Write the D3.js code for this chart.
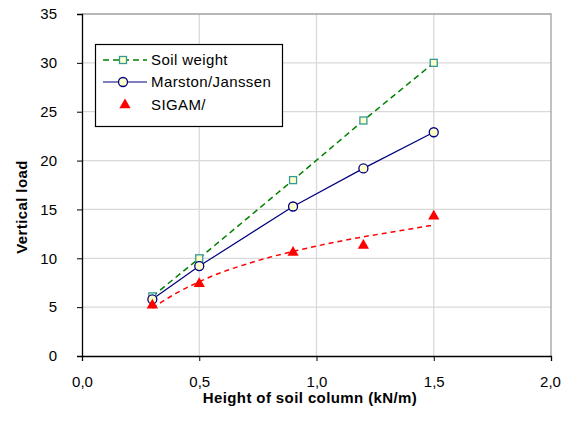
<!DOCTYPE html>
<html>
<head>
<meta charset="utf-8">
<script src="https://cdn.jsdelivr.net/npm/d3@7"></script>
<style>
  body { margin: 0; background: #fff; }
  text { font-family: "Liberation Sans", Arial, sans-serif; letter-spacing: 0.4px; }
  .tick text { letter-spacing: 0; }
</style>
</head>
<body>
<svg class="chart" width="561" height="421"></svg>
<script>
// values
const heights = [0.3, 0.5, 0.9, 1.2, 1.5]
const soilWeight = [6.1, 10.0, 18.0, 24.1, 30.0]
const marston = [5.8, 9.2, 15.3, 19.2, 22.9]
const sigam = [5.2, 7.4, 10.6, 11.3, 14.3]
// red dashed trend line
const trendX = [0.3, 0.4, 0.5, 0.6, 0.7, 0.8, 0.9, 1.0, 1.1, 1.2, 1.3, 1.4, 1.5]
const trendY = [4.9, 6.4, 7.6, 8.6, 9.4, 10.1, 10.7, 11.25, 11.75, 12.2, 12.6, 13.0, 13.4]
const xTicks = [0, 0.5, 1.0, 1.5, 2.0]
const yTicks = [0, 5, 10, 15, 20, 25, 30, 35]
const legendNames = ["Soil weight", "Marston/Janssen", "SIGAM/"]

const margin = {top: 14, right: 10, bottom: 65, left: 82}
const width = 551 - margin.left
const height = 356 - margin.top
const fontSize = 15

let svg = d3.select('.chart')
let chart = svg.append("g")
        .attr("transform", `translate(${margin.left},${margin.top})`)

let x = d3.scaleLinear().domain([0, 2]).range([0, width])
let y = d3.scaleLinear().domain([0, 35]).range([height, 0])

// grid
chart.append("g").selectAll("line")
    .data(yTicks.filter(d => d > 0 && d < 35))
    .enter().append("line")
        .attr("x1", 0).attr("x2", width)
        .attr("y1", d => y(d)).attr("y2", d => y(d))
        .attr("stroke", "#d9d9d9").attr("stroke-width", 1.3)
chart.append("g").selectAll("line")
    .data(xTicks.filter(d => d > 0 && d < 2))
    .enter().append("line")
        .attr("y1", 0).attr("y2", height)
        .attr("x1", d => x(d)).attr("x2", d => x(d))
        .attr("stroke", "#d9d9d9").attr("stroke-width", 1.3)

// frame top / right
chart.append("path")
    .attr("d", `M0,0H${width}V${height}`)
    .attr("fill", "none").attr("stroke", "#a0a0a0").attr("stroke-width", 1.3)

// axes
let fmt = d3.format(".1f")
let xAxis = chart.append("g")
    .attr("transform", `translate(0,${height})`)
    .call(d3.axisBottom(x).tickValues(xTicks).tickSize(5).tickPadding(15)
        .tickFormat(d => fmt(d).replace(".", ",")))
let yAxis = chart.append("g")
    .call(d3.axisLeft(y).tickValues(yTicks).tickSize(5).tickPadding(20))
for (let ax of [xAxis, yAxis]) {
    ax.select(".domain").attr("stroke", "#000").attr("stroke-width", 1.3)
    ax.selectAll(".tick line").attr("stroke", "#000")
    ax.selectAll("text").attr("font-size", fontSize).attr("fill", "#000")
        .style("font-family", '"Liberation Sans", Arial, sans-serif')
}
// keep the last label inside the window
xAxis.selectAll(".tick text").filter(d => d === 2).attr("dx", -1)

// titles
svg.append("text")
    .attr("x", 310).attr("y", 403)
    .attr("text-anchor", "middle")
    .attr("font-size", fontSize).attr("font-weight", "bold")
    .text("Height of soil column (kN/m)")
svg.append("text")
    .attr("transform", "translate(27,207) rotate(-90)")
    .attr("text-anchor", "middle")
    .attr("font-size", fontSize).attr("font-weight", "bold")
    .text("Vertical load")

// series
let soilData = heights.map((h, i) => ({x: h, y: soilWeight[i]}))
let marstonData = heights.map((h, i) => ({x: h, y: marston[i]}))
let sigamData = heights.map((h, i) => ({x: h, y: sigam[i]}))
let trendData = trendX.map((h, i) => ({x: h, y: trendY[i]}))

let line = d3.line().x(d => x(d.x)).y(d => y(d.y))

chart.append("path")
    .datum(trendData)
    .attr("d", line.curve(d3.curveMonotoneX))
    .attr("fill", "none").attr("stroke", "#ff0000")
    .attr("stroke-width", 1.5).attr("stroke-dasharray", "5,4")
line.curve(d3.curveLinear)

chart.append("path")
    .datum(soilData)
    .attr("d", line)
    .attr("fill", "none").attr("stroke", "#008000")
    .attr("stroke-width", 1.5).attr("stroke-dasharray", "6,4")
chart.append("path")
    .datum(marstonData)
    .attr("d", line)
    .attr("fill", "none").attr("stroke", "#000080").attr("stroke-width", 1.2)

let tri = d3.symbol().type(d3.symbolTriangle).size(55)

chart.selectAll(".sq")
    .data(soilData)
    .enter().append("rect")
        .attr("class", "sq")
        .attr("x", d => x(d.x) - 3.5).attr("y", d => y(d.y) - 3.5)
        .attr("width", 7).attr("height", 7)
        .attr("fill", "#ffffcc").attr("stroke", "#339999").attr("stroke-width", 1.3)
chart.selectAll(".circ")
    .data(marstonData)
    .enter().append("circle")
        .attr("class", "circ")
        .attr("cx", d => x(d.x)).attr("cy", d => y(d.y)).attr("r", 4.5)
        .attr("fill", "#ffffcc").attr("stroke", "#000080").attr("stroke-width", 1.3)
chart.selectAll(".tri")
    .data(sigamData)
    .enter().append("path")
        .attr("class", "tri")
        .attr("d", tri)
        .attr("transform", d => `translate(${x(d.x)},${y(d.y)})`)
        .attr("fill", "#ff0000")

// legend
let legend = svg.append("g")
legend.append("rect")
    .attr("x", 95.5).attr("y", 44.5).attr("width", 187).attr("height", 82)
    .attr("fill", "#fff").attr("stroke", "#000").attr("stroke-width", 1.2)
let rows = [60, 82, 105]
legend.append("line")
    .attr("x1", 103).attr("x2", 147).attr("y1", rows[0]).attr("y2", rows[0])
    .attr("stroke", "#008000").attr("stroke-width", 1.5).attr("stroke-dasharray", "6,4")
legend.append("rect")
    .attr("x", 119.5).attr("y", rows[0] - 3.5).attr("width", 7).attr("height", 7)
    .attr("fill", "#ffffcc").attr("stroke", "#339999").attr("stroke-width", 1.3)
legend.append("line")
    .attr("x1", 103).attr("x2", 147).attr("y1", rows[1]).attr("y2", rows[1])
    .attr("stroke", "#000080").attr("stroke-width", 1.2)
legend.append("circle")
    .attr("cx", 123).attr("cy", rows[1]).attr("r", 4.5)
    .attr("fill", "#ffffcc").attr("stroke", "#000080").attr("stroke-width", 1.3)
legend.append("path")
    .attr("d", tri)
    .attr("transform", `translate(125,${rows[2]})`)
    .attr("fill", "#ff0000")
legend.selectAll(".lab")
    .data(legendNames)
    .enter().append("text")
        .attr("class", "lab")
        .attr("x", 151).attr("y", (d, i) => rows[i] + 5)
        .attr("font-size", fontSize)
        .text(d => d)
</script>
</body>
</html>
